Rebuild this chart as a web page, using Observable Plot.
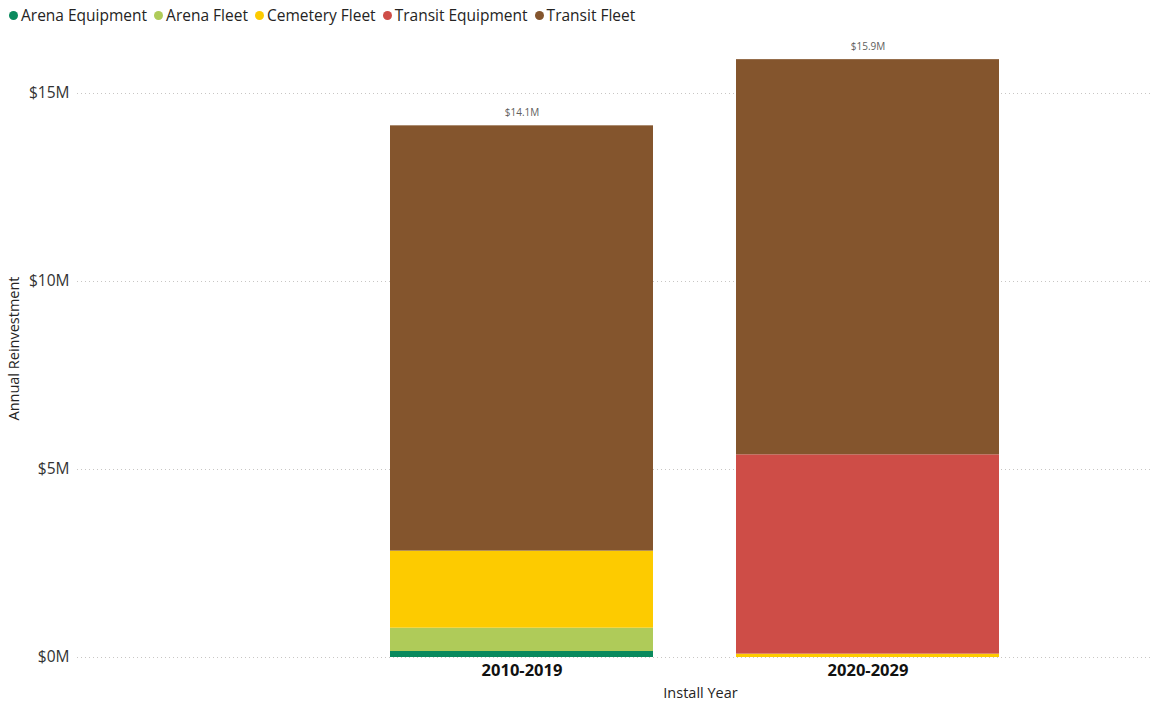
<!DOCTYPE html>
<html>
<head>
<meta charset="utf-8">
<script src="https://cdn.jsdelivr.net/npm/d3@7"></script>
<script src="https://cdn.jsdelivr.net/npm/@observablehq/plot@0.6"></script>
<style>
  html, body { margin: 0; padding: 0; background: #fff; }
  body { width: 1159px; height: 702px; overflow: hidden; font-family: "Open Sans", "Noto Sans", sans-serif; position: relative; }
  #legend { height: 32px; display: flex; align-items: center; padding-left: 9px; padding-bottom: 2px; font-size: 15.5px; color: #252423; box-sizing: border-box; }
  #legend .item { display: flex; align-items: center; margin-right: 7px; white-space: nowrap; }
  #legend .dot { width: 9px; height: 9px; border-radius: 50%; margin-right: 3px; }
  #xtitle { position: absolute; top: 683px; left: 0; width: 1401px; text-align: center; font-size: 14.5px; color: #252423; line-height: 20px; }
  svg text { font-family: "Open Sans", "Noto Sans", sans-serif; }
</style>
</head>
<body>
<div id="legend"></div>
<div id="chart"></div>
<div id="xtitle">Install Year</div>
<script>
const categories = ["2010-2019", "2020-2029"];
const series = ["Arena Equipment", "Arena Fleet", "Cemetery Fleet", "Transit Equipment", "Transit Fleet"];
const colors = ["#0A8A5E", "#AFCB59", "#FDCB00", "#CE4D47", "#84552D"];
// values in $ millions, per series, for each category
const values2010 = [0.16, 0.62, 2.05, 0, 11.31];
const values2020 = [0, 0, 0.09, 5.30, 10.51];
const yTicks = [0, 5, 10, 15];

const valuesByCat = [values2010, values2020];
const data = [];
categories.forEach((c, ci) => {
  series.forEach((s, si) => {
    data.push({ year: c, series: s, value: valuesByCat[ci][si] });
  });
});
const totals = categories.map((c, ci) => ({ year: c, total: d3.sum(valuesByCat[ci]) }));

// Legend
const legend = document.getElementById("legend");
series.forEach((s, i) => {
  const item = document.createElement("div");
  item.className = "item";
  const dot = document.createElement("span");
  dot.className = "dot";
  dot.style.background = colors[i];
  const label = document.createElement("span");
  label.textContent = s;
  item.appendChild(dot);
  item.appendChild(label);
  legend.appendChild(item);
});

const chart = Plot.plot({
  width: 1159,
  height: 650,
  marginLeft: 77,
  marginRight: 9,
  marginTop: 7,
  marginBottom: 25,
  style: { fontFamily: "'Open Sans', 'Noto Sans', sans-serif", background: "#fff" },
  x: { domain: categories, range: [390, 999], paddingInner: 0.24, paddingOuter: 0 },
  y: { domain: [0, 16.436] },
  color: { domain: series, range: colors },
  marks: [
    Plot.ruleY(yTicks, { stroke: "#c8c6c4", strokeDasharray: "1,3", strokeWidth: 1 }),
    Plot.barY(data, { x: "year", y: "value", fill: "series" }),
    Plot.text(totals, {
      x: "year", y: "total",
      text: d => `$${d3.format(".1f")(d.total)}M`,
      dy: -13, fontSize: 10, fill: "#605E5C"
    }),
    Plot.axisY({
      ticks: yTicks, tickFormat: d => `$${d}M`, tickSize: 0, tickPadding: 8,
      fontSize: 15.5, color: "#333", label: "Annual Reinvestment",
      labelAnchor: "center", labelArrow: "none", labelOffset: 69
    }),
    Plot.axisX({
      tickSize: 0, tickPadding: 7, fontSize: 16.5, fontWeight: "bold", color: "#111", label: null
    })
  ]
});
document.getElementById("chart").appendChild(chart);
// style y label
chart.querySelectorAll("g[aria-label='y-axis label'] text").forEach(t => {
  t.setAttribute("font-size", "14.5");
  t.style.fontSize = "14.5px";
  t.setAttribute("fill", "#252423");
});
</script>
</body>
</html>
